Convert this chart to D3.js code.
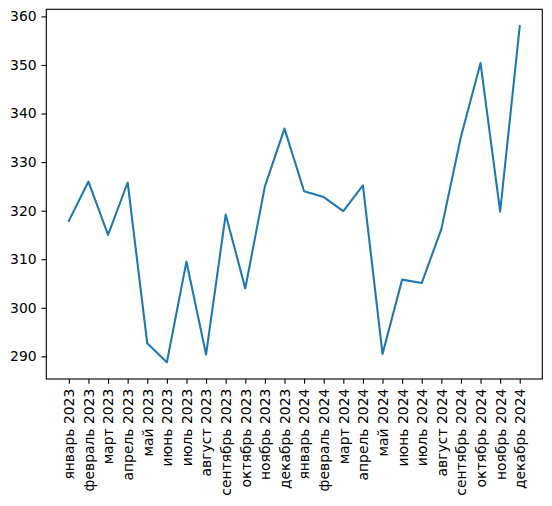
<!DOCTYPE html>
<html>
<head>
<meta charset="utf-8">
<script src="https://cdn.jsdelivr.net/npm/d3@7"></script>
<style>
  body { margin: 0; background: #fff; }
  text { font-family: "DejaVu Sans", sans-serif; }
</style>
</head>
<body>
<div class="chart"></div>
<script>
var months = ['январь 2023', 'февраль 2023', 'март 2023', 'апрель 2023', 'май 2023', 'июнь 2023',
    'июль 2023', 'август 2023', 'сентябрь 2023', 'октябрь 2023', 'ноябрь 2023', 'декабрь 2023',
    'январь 2024', 'февраль 2024', 'март 2024', 'апрель 2024', 'май 2024', 'июнь 2024',
    'июль 2024', 'август 2024', 'сентябрь 2024', 'октябрь 2024', 'ноябрь 2024', 'декабрь 2024']
var values = [317.9, 326.0, 315.0, 325.8, 292.7, 288.8, 309.5, 290.4, 319.2, 304.0, 325.0, 336.9,
    324.0, 322.8, 319.9, 325.2, 290.5, 305.8, 305.1, 316.2, 335.2, 350.4, 319.8, 358.0]
var yTicks = [290, 300, 310, 320, 330, 340, 350, 360]

var margin = {top: 9.3, right: 9.7, bottom: 127, left: 46.3}
var width = 552 - margin.left - margin.right
var height = 506 - margin.top - margin.bottom

var svg = d3.select('.chart')
    .append('svg')
    .attr('width', 552)
    .attr('height', 506)
    .append('g')
    .attr('transform', 'translate(' + margin.left + ',' + margin.top + ')')

// matplotlib style 5% margins
var n = months.length
var xPad = (n - 1) * 0.05
var xScale = d3.scaleLinear()
    .domain([-xPad, n - 1 + xPad])
    .range([0, width])

var yMin = d3.min(values), yMax = d3.max(values)
var yPad = (yMax - yMin) * 0.05
var yScale = d3.scaleLinear()
    .domain([yMin - yPad, yMax + yPad])
    .range([height, 0])

var line = d3.line()
    .x(function (d, i) { return xScale(i) })
    .y(function (d) { return yScale(d) })

svg.append('path')
    .datum(values)
    .attr('fill', 'none')
    .attr('stroke', '#1f77b4')
    .attr('stroke-width', 2.08)
    .attr('stroke-linejoin', 'round')
    .attr('stroke-linecap', 'square')
    .attr('d', line)

// x axis
var xAxis = d3.axisBottom(xScale)
    .tickValues(d3.range(n))
    .tickFormat(function (i) { return months[i] })
    .tickSize(4.86)
    .tickPadding(4.86)
var gx = svg.append('g')
    .attr('transform', 'translate(0,' + height + ')')
    .call(xAxis)
gx.select('.domain').remove()
gx.selectAll('line').attr('stroke', '#000').attr('stroke-width', 1.11)
gx.selectAll('text')
    .attr('font-size', '13.9px')
    .attr('fill', '#000')
    .attr('transform', 'rotate(-90)')
    .attr('text-anchor', 'end')
    .attr('x', -9.7)
    .attr('y', 0)
    .attr('dy', '0.35em')

// y axis
var yAxis = d3.axisLeft(yScale)
    .tickValues(yTicks)
    .tickSize(4.86)
    .tickPadding(4.86)
var gy = svg.append('g').call(yAxis)
gy.select('.domain').remove()
gy.selectAll('line').attr('stroke', '#000').attr('stroke-width', 1.11)
gy.selectAll('text')
    .attr('font-size', '13.9px')
    .attr('fill', '#000')

// frame
svg.append('rect')
    .attr('width', width)
    .attr('height', height)
    .attr('fill', 'none')
    .attr('stroke', '#000')
    .attr('stroke-width', 1.11)
</script>
</body>
</html>
